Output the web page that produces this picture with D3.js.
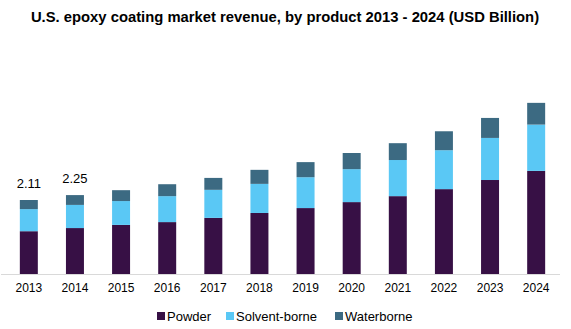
<!DOCTYPE html>
<html><head><meta charset="utf-8">
<script src="https://cdn.jsdelivr.net/npm/d3@7"></script>
<style>body{margin:0;background:#fff;}svg{display:block;font-family:"Liberation Sans",Arial,sans-serif;}</style>
</head><body><svg id="c" width="571" height="329"></svg>
<script>
const years = ["2013","2014","2015","2016","2017","2018","2019","2020","2021","2022","2023","2024"];
const powder = [1.22,1.31,1.40,1.48,1.60,1.74,1.88,2.05,2.22,2.42,2.68,2.94];
const solventBorne = [0.63,0.66,0.68,0.74,0.80,0.83,0.88,0.94,1.03,1.11,1.20,1.32];
const waterborne = [0.26,0.28,0.31,0.34,0.34,0.40,0.43,0.46,0.48,0.54,0.57,0.62];
const totalLabels = ["2.11","2.25","","","","","","","","","",""];
const seriesNames = ["Powder","Solvent-borne","Waterborne"];
const colors = ["#371045","#5ac8f5","#3c6a82"];

const svg = d3.select("#c");
const base = 274;
const x = d3.scaleBand().domain(years).range([6, 559]).paddingInner(0.61).paddingOuter(0.3);
const y = d3.scaleLinear().domain([0, 5.5]).range([base, base - 5.5*35.07]);

svg.append("text").attr("x", 285).attr("y", 22).attr("text-anchor","middle")
  .attr("font-weight","bold").attr("font-size", 14.8).attr("fill","#000")
  .text("U.S. epoxy coating market revenue, by product 2013 - 2024 (USD Billion)");

const data = years.map((yr,i)=>({year:yr, Powder:powder[i], "Solvent-borne":solventBorne[i], Waterborne:waterborne[i]}));
const stack = d3.stack().keys(seriesNames)(data);

svg.append("g").selectAll("g").data(stack).join("g").attr("fill",(d,i)=>colors[i])
  .selectAll("rect").data(d=>d).join("rect")
  .attr("x", d=>x(d.data.year)).attr("width", x.bandwidth())
  .attr("y", d=>y(d[1])).attr("height", d=>y(d[0])-y(d[1]));

// axis
const ax = svg.append("g").attr("transform",`translate(0,${base})`)
  .call(d3.axisBottom(x).tickSize(0).tickPadding(9));
ax.select(".domain").attr("stroke","#d9d9d9").attr("d","M1,0.5H560");
ax.selectAll("text").attr("font-size",12).attr("fill","#000").attr("font-family","Liberation Sans, Arial, sans-serif");

// total labels
svg.append("g").selectAll("text").data(years.map((yr,i)=>({yr, t:totalLabels[i], v:powder[i]+solventBorne[i]+waterborne[i]})).filter(d=>d.t))
  .join("text").attr("x", d=>x(d.yr)+x.bandwidth()/2).attr("y", d=>y(d.v)-12)
  .attr("text-anchor","middle").attr("font-size",13).attr("fill","#000").text(d=>d.t);

// legend
const legX = [157, 226, 335];
const lg = svg.append("g");
seriesNames.forEach((n,i)=>{
  lg.append("rect").attr("x", legX[i]).attr("y", 312).attr("width",8).attr("height",8).attr("fill",colors[i]);
  lg.append("text").attr("x", legX[i]+10).attr("y", 321).attr("font-size",13).attr("fill","#000").text(n);
});
</script></body></html>
